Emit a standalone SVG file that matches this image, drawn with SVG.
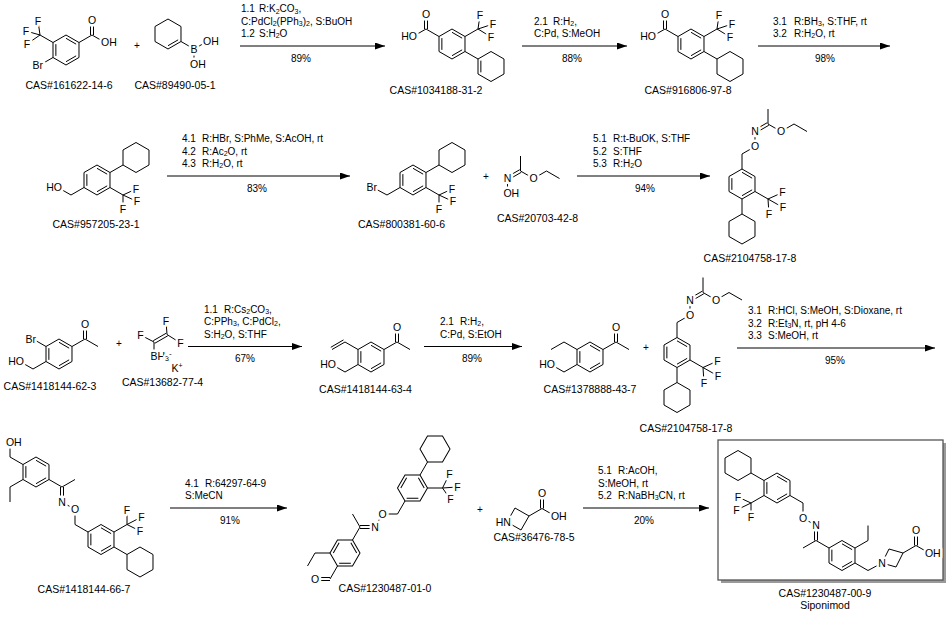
<svg xmlns="http://www.w3.org/2000/svg" width="949" height="617" viewBox="0 0 949 617">
<style>
.bd{fill:none;stroke:#000;stroke-width:1}
.t{font-family:"Liberation Sans",Arial,sans-serif;font-size:10.5px;fill:#000}
.c{font-family:"Liberation Sans",Arial,sans-serif;font-size:10px;fill:#000}
.a{font-family:"Liberation Sans",Arial,sans-serif;font-size:10.5px;fill:#000;stroke:#fff;stroke-width:5;paint-order:stroke;stroke-linejoin:round}
.m{text-anchor:middle}
.e{text-anchor:end}
.s{font-size:7px}
.ar{fill:none;stroke:#000;stroke-width:1;marker-end:url(#ah)}
</style>
<defs>
<polygon id="hx" points="0,-15 12.99,-7.5 12.99,7.5 0,15 -12.99,7.5 -12.99,-7.5" fill="none" stroke="#000" stroke-width="1"/>
<g id="bz" fill="none" stroke="#000" stroke-width="1"><use href="#hx"/><path d="M0,-11.7L10.13,-5.85M10.13,5.85L0,11.7M-10.13,5.85L-10.13,-5.85"/></g>
<marker id="ah" viewBox="0 0 10 7" refX="10" refY="3.5" markerWidth="10" markerHeight="7" markerUnits="userSpaceOnUse" orient="auto"><path d="M0,0L10,3.5L0,7z" fill="#000"/></marker>
</defs>
<rect width="949" height="617" fill="#fff"/>

<g id="connectors">
<line class="ar" x1="240" y1="46" x2="385" y2="46"/>
<line class="ar" x1="522" y1="46" x2="627" y2="46"/>
<line class="ar" x1="758" y1="46" x2="890" y2="46"/>
<line class="ar" x1="167" y1="176" x2="350" y2="176"/>
<line class="ar" x1="577" y1="176" x2="710" y2="176"/>
<line class="ar" x1="188" y1="346.5" x2="302" y2="346.5"/>
<line class="ar" x1="424" y1="346.5" x2="522" y2="346.5"/>
<line class="ar" x1="737" y1="348" x2="935" y2="348"/>
<line class="ar" x1="170" y1="508" x2="287" y2="508"/>
<line class="ar" x1="583" y1="508" x2="709" y2="508"/>
</g>

<g id="conditions" class="c">
<text y="12.2"><tspan x="241">1.1</tspan><tspan x="259">R:K<tspan class="s" dy="1.3">2</tspan><tspan dy="-1.3">CO</tspan><tspan class="s" dy="1.3">3</tspan><tspan dy="-1.3">,</tspan></tspan></text>
<text x="241" y="24.6">C:PdCl<tspan class="s" dy="1.3">2</tspan><tspan dy="-1.3">(PPh</tspan><tspan class="s" dy="1.3">3</tspan><tspan dy="-1.3">)</tspan><tspan class="s" dy="1.3">2</tspan><tspan dy="-1.3">, S:BuOH</tspan></text>
<text y="37"><tspan x="241">1.2</tspan><tspan x="259">S:H<tspan class="s" dy="1.3">2</tspan><tspan dy="-1.3">O</tspan></tspan></text>
<text class="m" x="301" y="61.5">89%</text>

<text y="24.6"><tspan x="534">2.1</tspan><tspan x="553">R:H<tspan class="s" dy="1.3">2</tspan><tspan dy="-1.3">,</tspan></tspan></text>
<text x="534" y="37">C:Pd, S:MeOH</text>
<text class="m" x="572" y="61.5">88%</text>

<text y="24.6"><tspan x="773">3.1</tspan><tspan x="794">R:BH<tspan class="s" dy="1.3">3</tspan><tspan dy="-1.3">, S:THF, rt</tspan></tspan></text>
<text y="37"><tspan x="773">3.2</tspan><tspan x="794">R:H<tspan class="s" dy="1.3">2</tspan><tspan dy="-1.3">O, rt</tspan></tspan></text>
<text class="m" x="825" y="61.5">98%</text>

<text y="142.2"><tspan x="182">4.1</tspan><tspan x="202">R:HBr, S:PhMe, S:AcOH, rt</tspan></text>
<text y="154.6"><tspan x="182">4.2</tspan><tspan x="202">R:Ac<tspan class="s" dy="1.3">2</tspan><tspan dy="-1.3">O, rt</tspan></tspan></text>
<text y="167"><tspan x="182">4.3</tspan><tspan x="202">R:H<tspan class="s" dy="1.3">2</tspan><tspan dy="-1.3">O, rt</tspan></tspan></text>
<text class="m" x="257" y="191.5">83%</text>

<text y="142.2"><tspan x="593">5.1</tspan><tspan x="613">R:t-BuOK, S:THF</tspan></text>
<text y="154.6"><tspan x="593">5.2</tspan><tspan x="613">S:THF</tspan></text>
<text y="167"><tspan x="593">5.3</tspan><tspan x="613">R:H<tspan class="s" dy="1.3">2</tspan><tspan dy="-1.3">O</tspan></tspan></text>
<text class="m" x="645" y="191.5">94%</text>

<text y="312.7"><tspan x="204">1.1</tspan><tspan x="224">R:Cs<tspan class="s" dy="1.3">2</tspan><tspan dy="-1.3">CO</tspan><tspan class="s" dy="1.3">3</tspan><tspan dy="-1.3">,</tspan></tspan></text>
<text x="204" y="325.1">C:PPh<tspan class="s" dy="1.3">3</tspan><tspan dy="-1.3">, C:PdCl</tspan><tspan class="s" dy="1.3">2</tspan><tspan dy="-1.3">,</tspan></text>
<text x="204" y="337.5">S:H<tspan class="s" dy="1.3">2</tspan><tspan dy="-1.3">O, S:THF</tspan></text>
<text class="m" x="245" y="362">67%</text>

<text y="325.1"><tspan x="440">2.1</tspan><tspan x="460">R:H<tspan class="s" dy="1.3">2</tspan><tspan dy="-1.3">,</tspan></tspan></text>
<text x="440" y="337.5">C:Pd, S:EtOH</text>
<text class="m" x="472" y="362">89%</text>

<text y="314.2"><tspan x="748">3.1</tspan><tspan x="768">R:HCl, S:MeOH, S:Dioxane, rt</tspan></text>
<text y="326.6"><tspan x="748">3.2</tspan><tspan x="768">R:Et<tspan class="s" dy="1.3">3</tspan><tspan dy="-1.3">N, rt, pH 4-6</tspan></tspan></text>
<text y="339"><tspan x="748">3.3</tspan><tspan x="768">S:MeOH, rt</tspan></text>
<text class="m" x="835" y="363.5">95%</text>

<text y="486.6"><tspan x="185">4.1</tspan><tspan x="205">R:64297-64-9</tspan></text>
<text x="185" y="499">S:MeCN</text>
<text class="m" x="230" y="523.5">91%</text>

<text y="474.2"><tspan x="598">5.1</tspan><tspan x="618">R:AcOH,</tspan></text>
<text x="598" y="486.6">S:MeOH, rt</text>
<text y="499"><tspan x="598">5.2</tspan><tspan x="618">R:NaBH<tspan class="s" dy="1.3">3</tspan><tspan dy="-1.3">CN, rt</tspan></tspan></text>
<text class="m" x="644" y="523.5">20%</text>

<text class="m" x="137" y="48.5">+</text>
<text class="m" x="486" y="179.5">+</text>
<text class="m" x="119" y="346.5">+</text>
<text class="m" x="646" y="350.5">+</text>
<text class="m" x="480" y="512.5">+</text>
</g>

<g id="m1">
<use href="#bz" x="66" y="50"/>
<path class="bd" d="M79,42.5L92,35M90.5,35L90.5,20M93.5,35L93.5,20M92,35L105,42.5M53,57.5L40,65M53,42.5L40,35M40,35L38,21M40,35L26,31M40,35L27,44"/>
<text class="a m" x="92" y="23.6">O</text>
<text class="a" x="101" y="46.1">OH</text>
<text class="a e" x="43" y="68.6">Br</text>
<text class="a m" x="38" y="24.6">F</text>
<text class="a m" x="26" y="34.6">F</text>
<text class="a m" x="27" y="47.6">F</text>
<text class="t m" x="69" y="88.5">CAS#161622-14-6</text>
</g>

<g id="m2">
<use href="#hx" x="168" y="34"/>
<path class="bd" d="M178.13,39.85L168,45.7M181,41.5L194,49M194,49L207,41.5M194,49L194,64"/>
<text class="a m" x="194" y="52.6">B</text>
<text class="a" x="203" y="45.1">OH</text>
<text class="a" x="190" y="67.6">OH</text>
<text class="t m" x="175" y="88.5">CAS#89490-05-1</text>
</g>

<g id="m3">
<use href="#bz" x="452" y="44"/>
<use href="#hx" x="491" y="66.5"/>
<path class="bd" d="M439,36.5L426,29M424.5,29L424.5,14M427.5,29L427.5,14M426,29L413,36.5M465,36.5L478,29M478,29L480,15M478,29L493,24M478,29L491,37M465,51.5L478,59M480.87,72.35L480.87,60.65"/>
<text class="a m" x="426" y="17.6">O</text>
<text class="a e" x="417" y="40.1">HO</text>
<text class="a m" x="480" y="18.6">F</text>
<text class="a m" x="493" y="27.6">F</text>
<text class="a m" x="491" y="40.6">F</text>
<text class="t m" x="436" y="93.5">CAS#1034188-31-2</text>
</g>

<g id="m4">
<use href="#bz" x="691" y="44"/>
<use href="#hx" x="730" y="66.5"/>
<path class="bd" d="M678,36.5L665,29M663.5,29L663.5,14M666.5,29L666.5,14M665,29L652,36.5M704,36.5L717,29M717,29L719,15M717,29L732,24M717,29L730,37M704,51.5L717,59"/>
<text class="a m" x="665" y="17.6">O</text>
<text class="a e" x="656" y="40.1">HO</text>
<text class="a m" x="719" y="18.6">F</text>
<text class="a m" x="732" y="27.6">F</text>
<text class="a m" x="730" y="40.6">F</text>
<text class="t m" x="688" y="93.5">CAS#916806-97-8</text>
</g>

<g id="m5">
<use href="#bz" x="97" y="180"/>
<use href="#hx" x="136" y="157.5"/>
<path class="bd" d="M110,172.5L123,165M110,187.5L123,195M123,195L136,189M123,195L137,201.5M123,195L123,209M84,187.5L71,195M71,195L58,187.5"/>
<text class="a e" x="62" y="191.1">HO</text>
<text class="a m" x="136" y="192.6">F</text>
<text class="a m" x="137" y="205.1">F</text>
<text class="a m" x="123" y="212.6">F</text>
<text class="t m" x="96" y="227.5">CAS#957205-23-1</text>
</g>

<g id="m6">
<use href="#bz" x="413" y="180"/>
<use href="#hx" x="452" y="157.5"/>
<path class="bd" d="M426,172.5L439,165M426,187.5L439,195M439,195L452,189M439,195L453,201.5M439,195L439,209M400,187.5L387,195M387,195L373,187.5"/>
<text class="a e" x="377" y="191.1">Br</text>
<text class="a m" x="452" y="192.6">F</text>
<text class="a m" x="453" y="205.1">F</text>
<text class="a m" x="439" y="212.6">F</text>
<text class="t m" x="401.5" y="227.5">CAS#800381-60-6</text>
</g>

<g id="m7">
<path class="bd" d="M520.5,171L520.5,156M520.5,171L533.5,178.5M533.5,178.5L546.5,171M546.5,171L559.5,178.5M507.5,178.5L507.5,193.5M506.75,177.2L519.75,169.7M508.25,179.8L521.25,172.3"/>
<text class="a m" x="507.5" y="182.1">N</text>
<text class="a m" x="533.5" y="182.1">O</text>
<text class="a" x="503.4" y="197.1">OH</text>
<text class="t m" x="537.5" y="221.5">CAS#20703-42-8</text>
</g>

<g id="m8">
<use href="#bz" x="742" y="184"/>
<use href="#hx" x="742" y="229"/>
<path class="bd" d="M742,169L742,154M742,154L755,146.5M755,146.5L755,131.5M754.25,130.2L767.25,122.7M755.75,132.8L768.75,125.3M768,124L768,109M768,124L781,131.5M781,131.5L794,124M794,124L807,131.5M755,191.5L768,199M768,199L782.5,192.5M768,199L783,207.5M768,199L769,214.5M742,199L742,214"/>
<text class="a m" x="755" y="135.1">N</text>
<text class="a m" x="755" y="150.1">O</text>
<text class="a m" x="781" y="135.1">O</text>
<text class="a m" x="782.5" y="196.1">F</text>
<text class="a m" x="783" y="211.1">F</text>
<text class="a m" x="769" y="218.1">F</text>
<text class="t m" x="750" y="262">CAS#2104758-17-8</text>
</g>

<g id="m9">
<use href="#bz" x="59" y="354"/>
<path class="bd" d="M72,346.5L85,339M83.5,339L83.5,324M86.5,339L86.5,324M85,339L98,346.5M46,346.5L33,339M46,361.5L33,369M33,369L20,361.5"/>
<text class="a m" x="85" y="327.6">O</text>
<text class="a e" x="36" y="342.6">Br</text>
<text class="a e" x="24" y="365.1">HO</text>
<text class="t m" x="50" y="390">CAS#1418144-62-3</text>
</g>

<g id="m10">
<path class="bd" d="M153.25,340.7L166.25,333.2M154.75,343.3L167.75,335.8M167,334.5L166,321M167,334.5L180.5,343M154,342L140.5,335M154,342L154,356"/>
<text class="a m" x="166" y="324.6">F</text>
<text class="a m" x="180.5" y="346.6">F</text>
<text class="a m" x="140.5" y="338.6">F</text>
<text class="a" x="150.5" y="359.6">BH<tspan class="s" dy="1.5">3</tspan><tspan style="font-size:8px" dy="-5.5">-</tspan></text>
<text class="t" x="171.5" y="371.6">K<tspan class="s" dy="-4">+</tspan></text>
<text class="t m" x="162.5" y="386">CAS#13682-77-4</text>
</g>

<g id="m11">
<use href="#bz" x="371" y="357"/>
<path class="bd" d="M384,349.5L397,342M395.5,342L395.5,327M398.5,342L398.5,327M397,342L410,349.5M358,349.5L345,342M345,342L332,349.5M343.5,339.9L330.8,347.3M358,364.5L345,372M345,372L332,364.5"/>
<text class="a m" x="397" y="330.6">O</text>
<text class="a e" x="336" y="368.1">HO</text>
<text class="t m" x="365.5" y="393">CAS#1418144-63-4</text>
</g>

<g id="m12">
<use href="#bz" x="590" y="357"/>
<path class="bd" d="M603,349.5L616,342M614.5,342L614.5,327M617.5,342L617.5,327M616,342L629,349.5M577,349.5L564,342M564,342L551,349.5M577,364.5L564,372M564,372L551,364.5"/>
<text class="a m" x="616" y="330.6">O</text>
<text class="a e" x="555" y="368.1">HO</text>
<text class="t m" x="590" y="393">CAS#1378888-43-7</text>
</g>

<g id="m13">
<use href="#bz" x="677" y="352.5"/>
<use href="#hx" x="677" y="397.5"/>
<path class="bd" d="M677,337.5L677,322.5M677,322.5L690,315M690,315L690,300M689.25,298.7L702.25,291.2M690.75,301.3L703.75,293.8M703,292.5L703,277.5M703,292.5L716,300M716,300L729,292.5M729,292.5L742,300M690,360L703,367.5M703,367.5L717.5,361M703,367.5L718,376M703,367.5L704,383M677,367.5L677,382.5"/>
<text class="a m" x="690" y="303.6">N</text>
<text class="a m" x="690" y="318.6">O</text>
<text class="a m" x="716" y="303.6">O</text>
<text class="a m" x="717.5" y="364.6">F</text>
<text class="a m" x="718" y="379.6">F</text>
<text class="a m" x="704" y="386.6">F</text>
<text class="t m" x="686" y="432">CAS#2104758-17-8</text>
</g>

<g id="m14">
<use href="#bz" x="36" y="472"/>
<use href="#bz" x="101" y="539.5"/>
<use href="#hx" x="140" y="562"/>
<path class="bd" d="M23,464.5L10,457M10,457L10,442M23,479.5L10,487M10,487L10,502M49,479.5L62,487M62,487L75,479.5M60.5,487L60.5,502M63.5,487L63.5,502M62,502L75,509.5M75,509.5L75,524.5M75,524.5L88,532M114,532L127,524.5M127,524.5L127,510M127,524.5L141.5,517M127,524.5L140,531M114,547L127,554.5"/>
<text class="a" x="5.9" y="445.6">OH</text>
<text class="a m" x="62" y="505.6">N</text>
<text class="a m" x="75" y="513.1">O</text>
<text class="a m" x="127" y="513.6">F</text>
<text class="a m" x="141.5" y="520.6">F</text>
<text class="a m" x="140" y="534.6">F</text>
<text class="t m" x="84" y="592.5">CAS#1418144-66-7</text>
</g>

<g id="m15">
<use href="#bz" transform="translate(345,553) rotate(30)"/>
<use href="#bz" transform="translate(412.5,488) rotate(30)"/>
<use href="#hx" transform="translate(435,449) rotate(30)"/>
<path class="bd" d="M352.5,540L360,527M360,527L352.5,514M360,525.5L375,525.5M360,528.5L375,528.5M375,527L382.5,514M382.5,514L397.5,514M397.5,514L405,501M420,475L427.5,462M427.5,488L442.5,488M442.5,488L449.5,474M442.5,488L457.5,487M442.5,488L450.5,499.5M330,553L315,553M315,553L307.5,566M337.5,566L330,579M330,577.5L315,577.5M330,580.5L315,580.5"/>
<text class="a m" x="375" y="530.6">N</text>
<text class="a m" x="382.5" y="517.6">O</text>
<text class="a m" x="315" y="582.6">O</text>
<text class="a m" x="449.5" y="477.6">F</text>
<text class="a m" x="457.5" y="490.6">F</text>
<text class="a m" x="450.5" y="503.1">F</text>
<text class="t m" x="385" y="592">CAS#1230487-01-0</text>
</g>

<g id="m16">
<polygon class="bd" points="507,522 515,508 529,516 521,530"/>
<path class="bd" d="M529,516L542,508.5M540.5,508.5L540.5,493.5M543.5,508.5L543.5,493.5M542,508.5L555,516"/>
<text class="a e" x="510.8" y="525.6">HN</text>
<text class="a m" x="542" y="497.1">O</text>
<text class="a" x="550.9" y="519.6">OH</text>
<text class="t m" x="534" y="541">CAS#36476-78-5</text>
</g>

<g id="m17">
<rect x="721" y="443" width="225" height="140" fill="#9a9a9a"/>
<rect x="718" y="440" width="225" height="140" fill="#fff" stroke="#555" stroke-width="1.3"/>
<use href="#bz" x="777" y="488"/>
<use href="#hx" x="738" y="465.5"/>
<use href="#bz" x="842" y="555.5"/>
<polygon class="bd" points="882,563 889,549 903,553 896,567"/>
<path class="bd" d="M764,480.5L751,473M764,495.5L751,503M751,503L738,497M751,503L736.5,510M751,503L751,517M790,495.5L803,503M803,503L803,518M803,518L816,525.5M814.5,525.5L814.5,540.5M817.5,525.5L817.5,540.5M816,540.5L803,548M816,540.5L829,548M855,548L868,540.5M868,540.5L868,525.5M855,563L868,570.5M868,570.5L882,563M903,553L916,545.5M914.5,545.5L914.5,530.5M917.5,545.5L917.5,530.5M916,545.5L929,553"/>
<text class="a m" x="738" y="500.6">F</text>
<text class="a m" x="736.5" y="513.6">F</text>
<text class="a m" x="751" y="520.6">F</text>
<text class="a m" x="803" y="521.6">O</text>
<text class="a m" x="816" y="529.1">N</text>
<text class="a m" x="882" y="566.6">N</text>
<text class="a m" x="916" y="534.1">O</text>
<text class="a" x="924.9" y="556.6">OH</text>
<text class="t m" x="825" y="597">CAS#1230487-00-9</text>
<text class="t m" x="825" y="608.5">Siponimod</text>
</g>
</svg>
